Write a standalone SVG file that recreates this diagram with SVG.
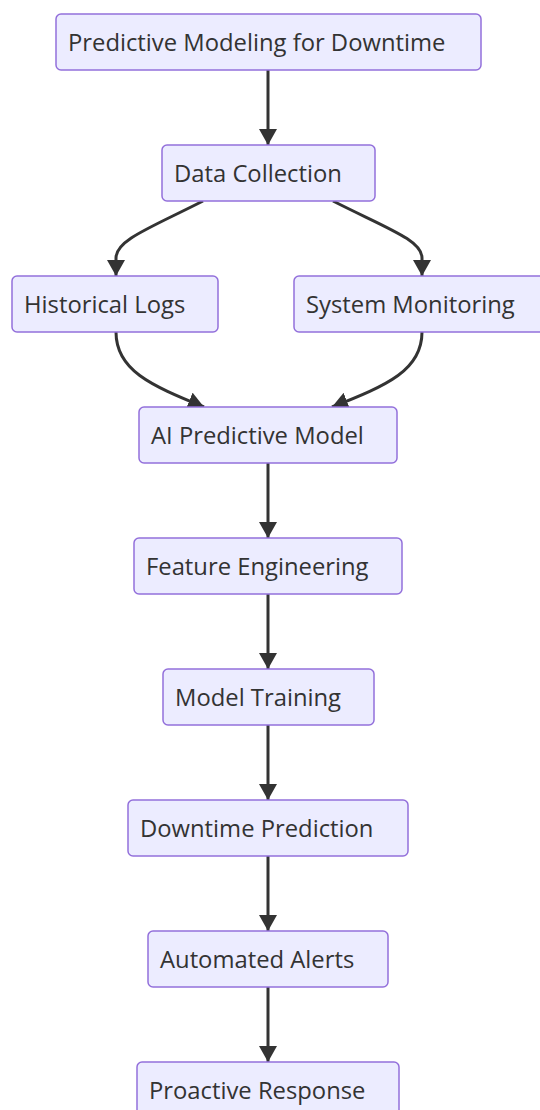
<svg xmlns="http://www.w3.org/2000/svg" width="540" height="1110" viewBox="0 0 540 1110">
<style>
.n rect{fill:#ECECFF;stroke:#9370DB;stroke-width:1.5}
.n text{font-family:"Open Sans","Noto Sans",sans-serif;font-size:23.8px;fill:#333;dominant-baseline:central}
.e path{fill:none;stroke:#333;stroke-width:3}
</style>
<defs>
<marker id="ah" viewBox="0 0 10 10" refX="10" refY="5" markerWidth="16" markerHeight="18" markerUnits="userSpaceOnUse" orient="auto" preserveAspectRatio="none">
<path d="M0,0 L10,5 L0,10 z" fill="#333"/>
</marker>
</defs>
<rect width="540" height="1110" fill="#fff"/>
<g class="e">
<path d="M268,70 L268,145" marker-end="url(#ah)"/>
<path d="M203,201 C150,228 116,240 116,258 L116,276" marker-end="url(#ah)"/>
<path d="M333,201 C386,228 422,240 422,258 L422,276" marker-end="url(#ah)"/>
<path d="M116,332 C116,370 150,385 204,407" marker-end="url(#ah)"/>
<path d="M422,332 C422,370 388,385 332,407" marker-end="url(#ah)"/>
<path d="M268,463 L268,538" marker-end="url(#ah)"/>
<path d="M268,594 L268,669" marker-end="url(#ah)"/>
<path d="M268,725 L268,800" marker-end="url(#ah)"/>
<path d="M268,856 L268,931" marker-end="url(#ah)"/>
<path d="M268,987 L268,1062" marker-end="url(#ah)"/>
</g>
<g id="n1" class="n"><rect x="56" y="14" width="425" height="56" rx="5"/><text x="68" y="42">Predictive Modeling for Downtime</text></g>
<g id="n2" class="n"><rect x="162" y="145" width="213" height="56" rx="5"/><text x="174" y="173">Data Collection</text></g>
<g id="n3" class="n"><rect x="12" y="276" width="206" height="56" rx="5"/><text x="24" y="304">Historical Logs</text></g>
<g id="n4" class="n"><rect x="294" y="276" width="250" height="56" rx="5"/><text x="306" y="304">System Monitoring</text></g>
<g id="n5" class="n"><rect x="139" y="407" width="258" height="56" rx="5"/><text x="151" y="435">AI Predictive Model</text></g>
<g id="n6" class="n"><rect x="134" y="538" width="268" height="56" rx="5"/><text x="146" y="566">Feature Engineering</text></g>
<g id="n7" class="n"><rect x="163" y="669" width="211" height="56" rx="5"/><text x="175" y="697">Model Training</text></g>
<g id="n8" class="n"><rect x="128" y="800" width="280" height="56" rx="5"/><text x="140" y="828">Downtime Prediction</text></g>
<g id="n9" class="n"><rect x="148" y="931" width="240" height="56" rx="5"/><text x="160" y="959">Automated Alerts</text></g>
<g id="n10" class="n"><rect x="137" y="1062" width="262" height="56" rx="5"/><text x="149" y="1090">Proactive Response</text></g>
</svg>
